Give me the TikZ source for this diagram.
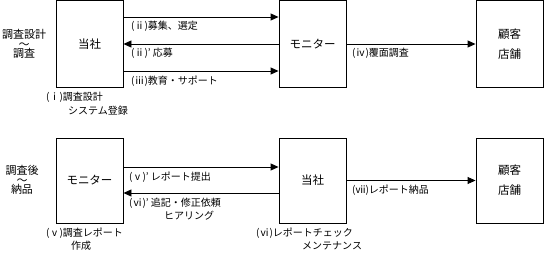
\documentclass[tikz,border=0pt]{standalone}
\usepackage{fontspec}
\setmainfont{Noto Sans CJK JP}
\usetikzlibrary{arrows.meta}
\begin{document}
\begin{tikzpicture}[x=1pt,y=-1pt,
  box/.style={draw,line width=0.9pt,minimum width=67pt,minimum height=87pt,inner sep=0pt,font=\fontsize{11.5}{20}\selectfont,align=center},
  lbl/.style={anchor=west,inner sep=0pt,font=\fontsize{10}{12}\selectfont},
  side/.style={inner sep=0pt,align=center,font=\fontsize{11}{9.5}\selectfont},
  arr/.style={line width=0.9pt,-{Triangle[length=8pt,width=7pt]}}]
\useasboundingbox (0,0) rectangle (544,253);
% top row
\node[box] (a1) at (89.5,44) {当社};
\node[box] (b1) at (312.5,44) {モニター};
\node[box] (c1) at (509.5,44) {顧客\\店舗};
\draw[arr] ([yshift=27pt]a1.east) -- ([yshift=27pt]b1.west);
\draw[arr] (b1.west) -- (a1.east);
\draw[arr] ([yshift=-27pt]a1.east) -- ([yshift=-27pt]b1.west);
\draw[arr] (b1.east) -- (c1.west);
\node[lbl] (l1) at (131,26) {(ⅱ)募集、選定};
\node[lbl] (l2) at (131,53) {(ⅱ)’ 応募};
\node[lbl] (l3) at (131,81) {(ⅲ)教育・サポート};
\node[lbl] (l4) at (352,53) {(ⅳ)覆面調査};
\node[side] (s1) at (24,44) {調査設計\\～\\調査};
\node[lbl] (u1) at (46,97) {(ⅰ)調査設計};
\node[lbl] (u2) at (68,111) {システム登録};
% bottom row
\node[box,minimum height=85pt] (a2) at (89.5,180.5) {モニター};
\node[box,minimum height=85pt] (b2) at (312.5,180.5) {当社};
\node[box,minimum height=85pt] (c2) at (509.5,180.5) {顧客\\店舗};
\draw[arr] ([yshift=13.5pt]a2.east) -- ([yshift=13.5pt]b2.west);
\draw[arr] ([yshift=-12.5pt]b2.west) -- ([yshift=-12.5pt]a2.east);
\draw[arr] (b2.east) -- (c2.west);
\node[lbl] (l5) at (129,177) {(ⅴ)’ レポート提出};
\node[lbl] (l6) at (129,203) {(ⅵ)’ 追記・修正依頼};
\node[lbl] (l7) at (164,216) {ヒアリング};
\node[lbl] (l8) at (352,190) {(ⅶ)レポート納品};
\node[side] (s4) at (22,180) {調査後\\～\\納品};
\node[lbl] (u3) at (46,233) {(ⅴ)調査レポート};
\node[lbl] (u4) at (71,246) {作成};
\node[lbl] (u5) at (256,233) {(ⅵ)レポートチェック};
\node[lbl] (u6) at (302,246) {メンテナンス};
\end{tikzpicture}
\end{document}
